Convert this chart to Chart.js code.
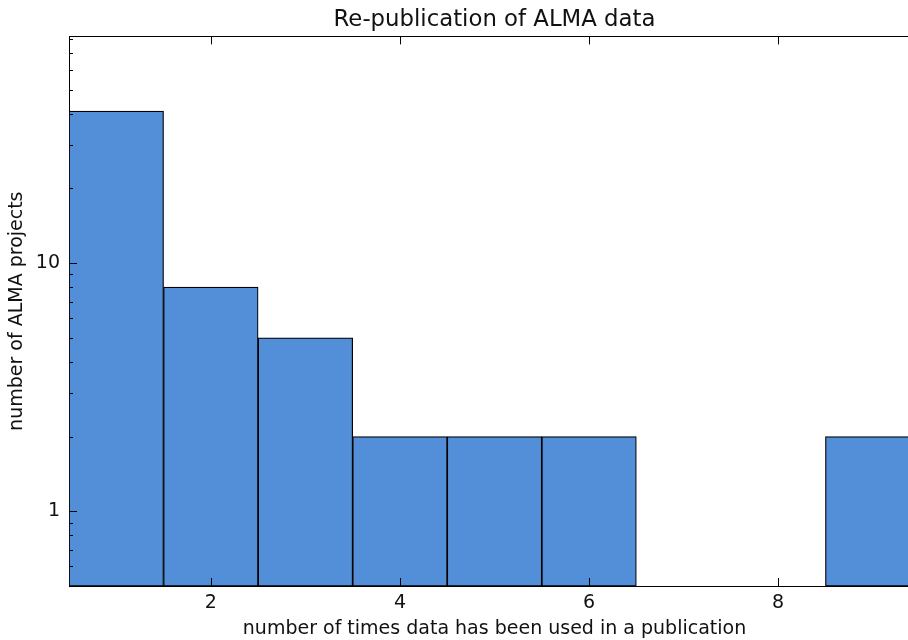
<!DOCTYPE html>
<html>
<head>
<meta charset="utf-8">
<script src="https://cdn.jsdelivr.net/npm/chart.js@4/dist/chart.umd.min.js"></script>
<style>
  html, body { margin: 0; padding: 0; overflow: hidden; background: #fff; }
  #c { display: block; }
</style>
</head>
<body>
<canvas id="c" width="921" height="640"></canvas>
<script>
// ---- data ----
const timesUsed = [1, 2, 3, 4, 5, 6, 9];
const projectCounts = [41, 8, 5, 2, 2, 2, 2];
const xTickValues = [2, 4, 6, 8];
const yMajorTicks = [1, 10];
const yMinorTicks = [0.6, 0.7, 0.8, 0.9, 2, 3, 4, 5, 6, 7, 8, 9, 20, 30, 40, 50, 60, 70, 80];
const xRange = [0.5, 9.5];
const yRange = [0.5, 82];

const FONT = 'DejaVu Sans';
const TXT = '#111';

const innerTicks = {
  id: 'innerTicks',
  afterDraw(chart) {
    const { ctx, chartArea: a, scales } = chart;
    ctx.save();
    ctx.strokeStyle = '#000';
    ctx.lineWidth = 1;
    ctx.beginPath();
    scales.y.ticks.forEach(t => {
      const py = Math.round(scales.y.getPixelForValue(t.value)) + 0.5;
      const len = t.major ? 8 : 4;
      ctx.moveTo(a.left, py); ctx.lineTo(a.left + len, py);
    });
    scales.x.ticks.forEach(t => {
      const px = Math.round(scales.x.getPixelForValue(t.value)) + 0.5;
      ctx.moveTo(px, a.bottom); ctx.lineTo(px, a.bottom - 8);
      ctx.moveTo(px, a.top); ctx.lineTo(px, a.top + 8);
    });
    ctx.stroke();
    ctx.restore();
  }
};

new Chart(document.getElementById('c'), {
  type: 'bar',
  data: {
    datasets: [{
      data: timesUsed.map((x, i) => ({ x, y: projectCounts[i] })),
      backgroundColor: '#528fd8',
      borderColor: '#000',
      borderWidth: 1.2,
      borderSkipped: false,
      barPercentage: 1.0,
      categoryPercentage: 1.0
    }]
  },
  options: {
    responsive: false,
    animation: false,
    devicePixelRatio: 1,
    layout: { padding: { left: 0, right: 1, top: 0, bottom: 0 } },
    plugins: {
      legend: { display: false },
      tooltip: { enabled: false },
      title: {
        display: true,
        fullSize: false,
        text: 'Re-publication of ALMA data',
        color: TXT,
        font: { family: FONT, size: 22.8, weight: 'normal' },
        padding: { top: 6, bottom: 3 }
      }
    },
    scales: {
      x: {
        type: 'linear',
        position: 'bottom',
        min: xRange[0],
        max: xRange[1],
        offset: false,
        z: 1,
        afterBuildTicks: s => { s.ticks = xTickValues.map(v => ({ value: v })); },
        afterFit: s => { s.height = 54; },
        grid: { display: true, offset: false, drawOnChartArea: false, drawTicks: false },
        border: { display: true, color: '#000', width: 1 },
        ticks: { color: TXT, font: { family: FONT, size: 19 }, padding: 6, maxRotation: 0 },
        title: {
          display: true,
          text: 'number of times data has been used in a publication',
          color: TXT,
          font: { family: FONT, size: 19 },
          padding: { top: 0, bottom: 0 }
        }
      },
      x2: {
        type: 'linear',
        position: 'top',
        min: xRange[0],
        max: xRange[1],
        offset: false,
        z: 1,
        afterBuildTicks: s => { s.ticks = xTickValues.map(v => ({ value: v })); },
        afterFit: s => { s.height = 0; },
        grid: { display: true, offset: false, drawOnChartArea: false, drawTicks: false },
        border: { display: true, color: '#000', width: 1 },
        ticks: { display: false }
      },
      y: {
        type: 'logarithmic',
        position: 'left',
        min: yRange[0],
        max: yRange[1],
        z: 1,
        afterBuildTicks: s => {
          s.ticks = [...yMajorTicks, ...yMinorTicks].sort((a, b) => a - b)
            .map(v => ({ value: v, major: yMajorTicks.includes(v) }));
        },
        afterFit: s => { s.width = 69; },
        grid: { display: true, drawOnChartArea: false, drawTicks: false },
        border: { display: true, color: '#000', width: 1 },
        ticks: {
          color: TXT,
          font: { family: FONT, size: 19 },
          padding: 9,
          autoSkip: false,
          callback: v => (yMajorTicks.includes(v) ? String(v) : '')
        },
        title: {
          display: true,
          text: 'number of ALMA projects',
          color: TXT,
          font: { family: FONT, size: 19 },
          padding: { top: 6, bottom: 0 }
        }
      }
    }
  },
  plugins: [innerTicks]
});
</script>
</body>
</html>
